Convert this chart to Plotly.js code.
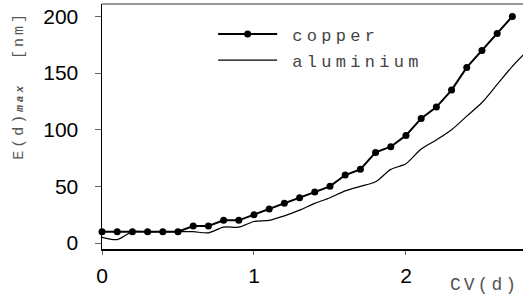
<!DOCTYPE html>
<html>
<head>
<meta charset="utf-8">
<script src="https://cdn.plot.ly/plotly-3.0.1.min.js"></script>
<style>
html,body{margin:0;padding:0;background:#fff;}
#chart{width:523px;height:299px;}
.legendtext{letter-spacing:4.3px;}
.annotation-text{letter-spacing:3px;}
</style>
</head>
<body>
<div id="chart"></div>
<script>
// Data
const copperX = [0,0.1,0.2,0.3,0.4,0.5,0.6,0.7,0.8,0.9,1.0,1.1,1.2,1.3,1.4,1.5,1.6,1.7,1.8,1.9,2.0,2.1,2.2,2.3,2.4,2.5,2.6,2.7];
const copperY = [10,10,10,10,10,10,15,15,20,20,25,30,35,40,45,50,60,65,80,85,95,110,120,135,155,170,185,200];
const aluX = [0,0.1,0.2,0.3,0.4,0.5,0.6,0.7,0.8,0.9,1.0,1.1,1.2,1.3,1.4,1.5,1.6,1.7,1.8,1.9,2.0,2.1,2.2,2.3,2.4,2.5,2.6,2.7,2.8];
const aluY = [5,3,10,10,10,10,10,9,14,14,19,20,24,29,35,40,46,50,54,65,70,83,91,100,112,124,140,156,170];
const seriesNames = ["copper","aluminium"];
const yTicks = [0,50,100,150,200];
const xTicks = [0,1,2];

const traces = [
  {x: copperX, y: copperY, name: seriesNames[0], type: 'scatter', mode: 'lines+markers',
   line: {color: '#000', width: 2}, marker: {color: '#000', size: 7, symbol: 'circle'}, cliponaxis: false},
  {x: aluX, y: aluY, name: seriesNames[1], type: 'scatter', mode: 'lines',
   line: {color: '#000', width: 1.2, shape: 'spline', smoothing: 0.8}}
];

const layout = {
  width: 523, height: 299,
  margin: {l: 102, r: 0, t: 4, b: 50},
  paper_bgcolor: '#fff', plot_bgcolor: '#fff',
  showlegend: true,
  legend: {x: 0.264, y: 0.949, xanchor: 'left', yanchor: 'top', bgcolor: 'rgba(0,0,0,0)',
           font: {family: 'Liberation Mono', size: 17, color: '#444'}, tracegroupgap: 0, itemwidth: 30},
  xaxis: {range: [0, 2.77], tickvals: xTicks, ticktext: xTicks.map(String), showgrid: false, zeroline: false,
          showline: true, linecolor: '#000', linewidth: 1.5, ticks: 'outside', ticklen: 4, tickcolor: '#666',
          ticklabelstandoff: 3,
          tickfont: {family: 'Liberation Sans', size: 21, color: '#000'}},
  yaxis: {range: [-5.3, 211], tickvals: yTicks, ticktext: yTicks.map(String), showgrid: false, zeroline: false,
          showline: true, linecolor: '#000', linewidth: 1.5, ticks: 'outside', ticklen: 6, tickcolor: '#666',
          ticklabelstandoff: 12,
          tickfont: {family: 'Liberation Sans', size: 21, color: '#000'}},
  shapes: [{type: 'line', xref: 'paper', yref: 'paper', x0: 0, x1: 1, y0: 1, y1: 1,
            line: {color: '#777', width: 1.5}}],
  annotations: [
    {text: 'E(d)<b><i><span style="font-size:11px">max</span></i></b>  [nm]', textangle: -90,
     xref: 'paper', yref: 'paper', x: -0.195, y: 0.67, xanchor: 'center', yanchor: 'middle', showarrow: false,
     font: {family: 'Liberation Mono', size: 15, color: '#555'}},
    {text: 'CV(d)', xref: 'paper', yref: 'paper', x: 0.995, y: -0.148, xanchor: 'right', yanchor: 'middle',
     showarrow: false, font: {family: 'Liberation Mono', size: 18, color: '#555'}}
  ]
};

Plotly.newPlot('chart', traces, layout, {displayModeBar: false, staticPlot: true}).then(function(gd){
  // remove legend clipping and lengthen the legend sample lines to match the reference
  gd.querySelectorAll('.legend [clip-path]').forEach(function(e){ e.removeAttribute('clip-path'); });
  const groups = gd.querySelectorAll('.legend .traces');
  let baseY = null;
  groups.forEach(function(t, i){
    const lp = t.querySelector('.legendlines path');
    if (lp) lp.setAttribute('d', 'M5,0h59');
    t.querySelectorAll('.legendpoints path').forEach(function(p){ p.setAttribute('transform', 'translate(34.5,0)'); });
    const tx = t.querySelector('.legendtext');
    if (tx) tx.setAttribute('x', 79);
    const m = /translate\(([-\d.]+),\s*([-\d.]+)\)/.exec(t.getAttribute('transform') || '');
    if (m) {
      if (baseY === null) baseY = parseFloat(m[2]);
      t.setAttribute('transform', 'translate(' + m[1] + ',' + (baseY + 26 * i) + ')');
    }
  });
});
</script>
</body>
</html>
